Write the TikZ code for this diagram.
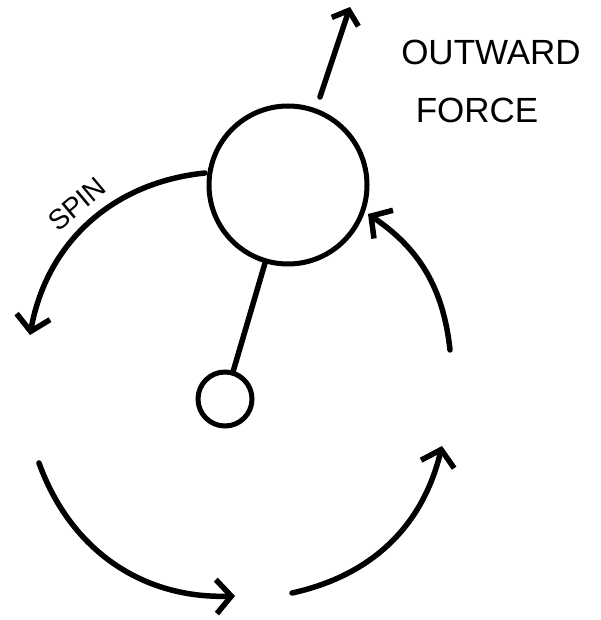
\documentclass[tikz,border=0pt]{standalone}
\usepackage{fontspec}
\setmainfont{Liberation Sans}
\usetikzlibrary{arrows.meta}
\tikzset{
  stroke/.style={line width=5.5pt, line cap=round},
  spinarrow/.style={stroke, -{Straight Barb[length=15pt,width=34pt]}},
  ball/.style={circle, draw, line width=5pt, inner sep=0pt},
  word/.style={font=\fontsize{35}{40}\selectfont}
}
\begin{document}
\begin{tikzpicture}[x=1pt,y=1pt]
\useasboundingbox (0,0) rectangle (600,-620);
\node[ball, minimum size=158pt] (mass) at (288,-185) {};
\node[ball, minimum size=54pt] (pivot) at (225,-399) {};
\draw[stroke] (mass) -- (pivot);
\coordinate (outBase) at (320,-97);
\coordinate (outTop) at (350,-7);
\draw[stroke, -{Straight Barb[length=12pt,width=28pt]}] (outBase) -- (outTop);
\node[word] (outward) at (491,-52) {OUTWARD};
\node[word] (force) at (477,-110) {FORCE};
\coordinate (spinA) at (205,-173);
\coordinate (spinB) at (30,-335);
\coordinate (lowA) at (39,-463);
\coordinate (lowB) at (235,-596);
\coordinate (lowC) at (292,-593);
\coordinate (lowD) at (442,-446);
\coordinate (sideA) at (450,-350);
\coordinate (sideB) at (368,-214);
\draw[spinarrow] (spinA) to[bend right=37] (spinB);
\draw[spinarrow] (lowA) to[bend right=36] (lowB);
\draw[spinarrow] (lowC) to[bend right=32] (lowD);
\draw[spinarrow] (sideA) to[bend right=25] (sideB);
\node[font=\fontsize{28}{30}\selectfont, rotate=40, inner sep=1pt] (spin) at (77,-204) {SPIN};
\end{tikzpicture}
\end{document}
